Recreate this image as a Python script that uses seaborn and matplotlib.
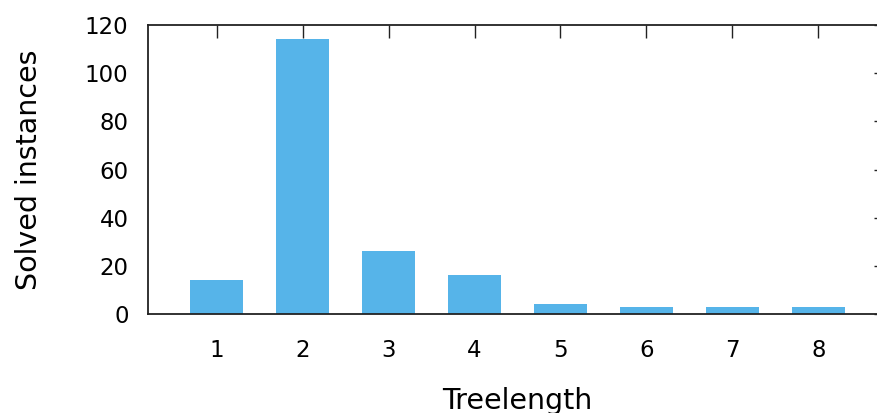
import matplotlib
matplotlib.use("Agg")
import matplotlib.pyplot as plt
import seaborn as sns
import pandas as pd

treelength = [1, 2, 3, 4, 5, 6, 7, 8]
solved = [14, 114, 26, 16, 4, 3, 3, 3]
y_ticks = [0, 20, 40, 60, 80, 100, 120]

sns.set_theme(style="white")
plt.rcParams['font.family'] = ['DejaVu Sans']

df = pd.DataFrame({"Treelength": treelength, "Solved": solved})

fig = plt.figure(figsize=(8.77, 4.13), dpi=100)
ax = fig.add_axes([148/877, 1-314/413, (887-148)/877, (314-25)/413])

sns.barplot(data=df, x="Treelength", y="Solved", native_scale=True, width=0.615,
            color="#56B4E9", saturation=1, edgecolor="none", linewidth=0, ax=ax)

ax.set_xlim(0.2, 8.8)
ax.set_ylim(0, 120)
ax.set_xticks(treelength)
ax.set_yticks(y_ticks)
ax.tick_params(direction="in", top=True, right=True, length=9.5, width=1.0,
               color="#222222", labelsize=16.5, labelcolor="black")
ax.tick_params(axis="y", pad=14)
ax.tick_params(axis="x", pad=18)
for s in ax.spines.values():
    s.set_visible(True)
    s.set_color("#222222")
    s.set_linewidth(1.3)
ax.set_xlabel("Treelength", fontsize=20.5, color="black", labelpad=18)
ax.set_ylabel("Solved instances", fontsize=20.5, color="black", labelpad=30)
ax.grid(False)

fig.savefig("out.png", dpi=100)
